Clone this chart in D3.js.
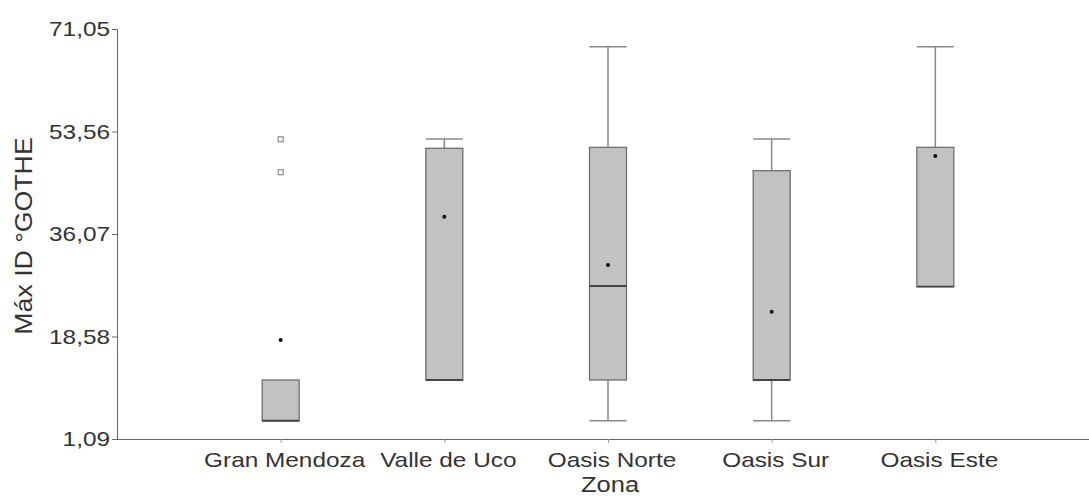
<!DOCTYPE html>
<html>
<head>
<meta charset="utf-8">
<script src="https://cdn.jsdelivr.net/npm/d3@7"></script>
<style>
  body { margin: 0; background: #fff; }
  text { font-family: "Liberation Sans", Arial, sans-serif; fill: #333; }
</style>
</head>
<body>
<div id="viz"></div>
<script>
const zones = ["Gran Mendoza", "Valle de Uco", "Oasis Norte", "Oasis Sur", "Oasis Este"]
const mins = [4.2, 11.16, 4.2, 4.2, 27.1]
const q1s = [4.2, 11.16, 11.16, 11.16, 27.1]
const medians = [4.2, 11.16, 27.2, 11.16, 27.1]
const q3s = [11.16, 50.7, 50.86, 46.87, 50.86]
const maxs = [11.16, 52.28, 68.0, 52.3, 68.0]
const means = [17.98, 39.02, 30.78, 22.81, 49.4]
const outliers = [[46.6, 52.23], [], [], [], []]
const yTicks = [1.09, 18.58, 36.07, 53.56, 71.05]

const W = 1089, H = 498
const mLeft = 117, mTop = 29, mBottom = 439
const boxW = 37
const stretch = 1.16 // the source text is a bit wider than Arial

const svg = d3.select("#viz").append("svg").attr("width", W).attr("height", H)

const x = d3.scalePoint().domain(zones).range([mLeft, 1099]).padding(1)
const y = d3.scaleLinear().domain([1.09, 71.05]).range([mBottom, mTop])

const fmt = d => d.toFixed(2).replace(".", ",")

// y axis
const yAxis = svg.append("g")
  .attr("transform", `translate(${mLeft},0)`)
  .call(d3.axisLeft(y).tickValues(yTicks).tickFormat(fmt).tickSize(5).tickPadding(2))
yAxis.select(".domain").attr("stroke", "#666")
yAxis.selectAll(".tick line").attr("stroke", "#666")
yAxis.selectAll(".tick text").attr("font-size", 21).attr("fill", "#333")
  .attr("font-family", "'Liberation Sans', Arial, sans-serif")
  .attr("x", -7 / stretch)
  .attr("transform", `scale(${stretch},1)`)

// x axis
const xAxis = svg.append("g")
  .attr("transform", `translate(0,${mBottom})`)
  .call(d3.axisBottom(x).tickSize(4).tickPadding(9).tickSizeOuter(0))
xAxis.select(".domain").attr("stroke", "#666").attr("d", `M${mLeft},0.5H${W}`)
xAxis.selectAll(".tick line").attr("stroke", "#999")
xAxis.selectAll(".tick text").attr("font-size", 21).attr("fill", "#333")
  .attr("font-family", "'Liberation Sans', Arial, sans-serif")
  .attr("x", 3)
  .attr("transform", `scale(${stretch},1)`)

// axis titles
svg.append("text")
  .attr("transform", `translate(32,236) rotate(-90) scale(${stretch},1)`)
  .attr("text-anchor", "middle")
  .attr("font-size", 23)
  .text("Máx ID °GOTHE")

svg.append("text")
  .attr("transform", `translate(610,492) scale(${stretch},1)`)
  .attr("text-anchor", "middle")
  .attr("font-size", 22)
  .text("Zona")

const g = svg.selectAll(".box").data(zones).enter().append("g").attr("class", "box")

g.each(function(d, i) {
  const cx = x(d)
  const sel = d3.select(this)
  // whiskers
  if (maxs[i] > q3s[i]) {
    sel.append("line").attr("x1", cx).attr("x2", cx).attr("y1", y(q3s[i])).attr("y2", y(maxs[i]))
      .attr("stroke", "#888").attr("stroke-width", 1.5)
    sel.append("line").attr("x1", cx - boxW / 2).attr("x2", cx + boxW / 2).attr("y1", y(maxs[i])).attr("y2", y(maxs[i]))
      .attr("stroke", "#888").attr("stroke-width", 1.5)
  }
  if (mins[i] < q1s[i]) {
    sel.append("line").attr("x1", cx).attr("x2", cx).attr("y1", y(q1s[i])).attr("y2", y(mins[i]))
      .attr("stroke", "#888").attr("stroke-width", 1.5)
    sel.append("line").attr("x1", cx - boxW / 2).attr("x2", cx + boxW / 2).attr("y1", y(mins[i])).attr("y2", y(mins[i]))
      .attr("stroke", "#888").attr("stroke-width", 1.5)
  }
  sel.append("rect")
    .attr("x", cx - boxW / 2).attr("width", boxW)
    .attr("y", y(q3s[i])).attr("height", y(q1s[i]) - y(q3s[i]))
    .attr("fill", "#c2c2c2").attr("stroke", "#666").attr("stroke-width", 1.2)
  sel.append("line")
    .attr("x1", cx - boxW / 2).attr("x2", cx + boxW / 2)
    .attr("y1", y(medians[i])).attr("y2", y(medians[i]))
    .attr("stroke", "#444").attr("stroke-width", 1.8)
  sel.append("circle").attr("cx", cx).attr("cy", y(means[i])).attr("r", 2).attr("fill", "#111")
  sel.selectAll(".out").data(outliers[i]).enter().append("rect")
    .attr("class", "out")
    .attr("x", cx - 2.5).attr("y", v => y(v) - 2.5)
    .attr("width", 5).attr("height", 5)
    .attr("fill", "#fff").attr("stroke", "#777").attr("stroke-width", 1)
})
</script>
</body>
</html>
